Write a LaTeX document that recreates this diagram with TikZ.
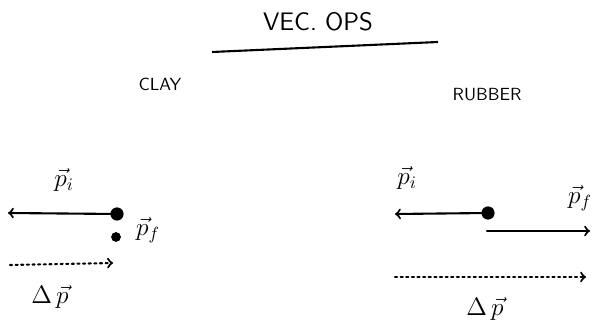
\documentclass[tikz,border=0pt]{standalone}
\usepackage{amsmath,amssymb}
\usepackage{tikz}
\usetikzlibrary{positioning}

\begin{document}
\begin{tikzpicture}[x=0.02cm, y=-0.02cm,
    circ/.style={shape=circle, inner sep=2.5pt, draw, fill},
    lbl/.style={font=\Large},
    mom/.style={very thick,->,line cap=round},
    dotarrow/.style={very thick,dotted,line cap=round,->}]
    \useasboundingbox (0,0) rectangle (598,327);

    \node (title) at (318,22) {\Large\sffamily VEC.\ OPS};
    \coordinate (ulstart) at (212,52);
    \coordinate (ulend) at (438,42);
    \draw[very thick] (ulstart) -- (ulend);

    % clay
    \node[font=\sffamily] (clay) at (160,84) {CLAY};
    \node[circ] (claydot) at (117,214) {};
    \node[circ, inner sep=1.8pt] (claydotf) at (116,237) {};
    \coordinate (claytip) at (8,213);
    \draw[mom] (claydot) -- (claytip);
    \node[lbl] (claypi) at (64,180) {$\vec{p}_i$};
    \node[lbl] (claypf) at (148,230) {$\vec{p}_f$};
    \coordinate (claydstart) at (10,265);
    \coordinate (claydend) at (113,263);
    \draw[dotarrow] (claydstart) -- (claydend);
    \node[lbl] (claydp) at (50,297) {$\Delta\,\vec{p}$};

    % rubber
    \node[font=\sffamily] (rubber) at (487,95) {RUBBER};
    \node[circ] (rubdot) at (488,213) {};
    \coordinate (rubtip) at (395,214);
    \draw[mom] (rubdot) -- (rubtip);
    \coordinate (rubfstart) at (487,231);
    \coordinate (rubfend) at (590,231);
    \draw[mom] (rubfstart) -- (rubfend);
    \node[lbl] (rubpi) at (407,178) {$\vec{p}_i$};
    \node[lbl] (rubpf) at (580,198) {$\vec{p}_f$};
    \coordinate (rubdstart) at (395,277);
    \coordinate (rubdend) at (586,277);
    \draw[dotarrow] (rubdstart) -- (rubdend);
    \node[lbl] (rubdp) at (485,309) {$\Delta\,\vec{p}$};
\end{tikzpicture}
\end{document}
